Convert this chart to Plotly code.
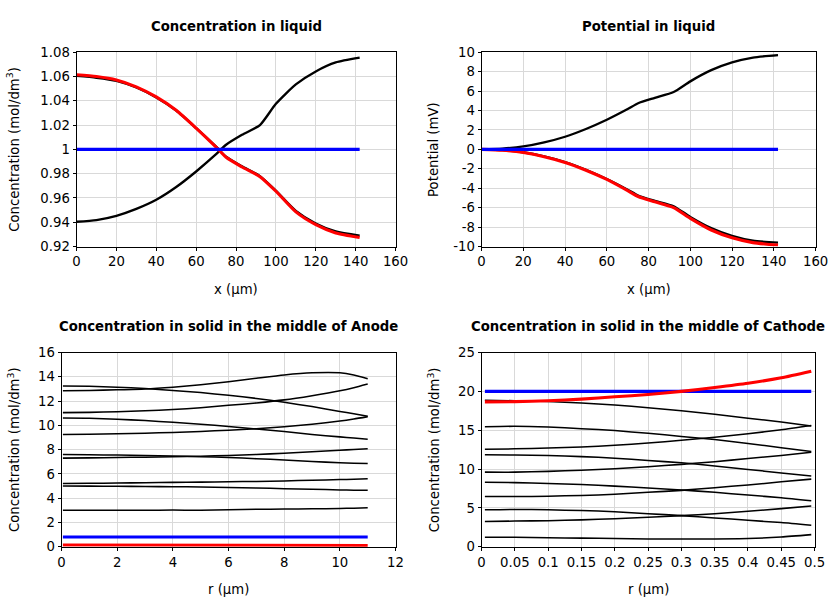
import plotly.graph_objects as go

# ---------------- data ----------------
# Concentration in liquid
x_liq = [0, 10, 20, 30, 40, 50, 60, 70, 75, 83, 92, 100, 110, 120, 130, 142]
c_liq_up = [0.9404, 0.9418, 0.9453, 0.951, 0.9585, 0.969, 0.9818, 0.996, 1.0038, 1.012, 1.020, 1.0375, 1.0535, 1.0642, 1.0716, 1.0755]
c_liq_down = [1.0605, 1.059, 1.0565, 1.051, 1.0428, 1.032, 1.0175, 1.0022, 0.994, 0.986, 0.978, 0.966, 0.9494, 0.939, 0.9324, 0.929]
c_liq_red = [1.0615, 1.060, 1.0572, 1.0515, 1.0432, 1.0322, 1.0175, 1.0018, 0.9935, 0.9855, 0.9775, 0.9655, 0.9485, 0.938, 0.9312, 0.9275]
c_liq_blue = [1.0] * len(x_liq)

# Potential in liquid
p_liq_up = [0, 0.08, 0.3, 0.72, 1.3, 2.1, 3.05, 4.15, 4.75, 5.3, 5.9, 7.0, 8.15, 8.95, 9.45, 9.7]
p_liq_down = [0, -0.08, -0.3, -0.72, -1.3, -2.1, -3.05, -4.15, -4.75, -5.3, -5.85, -6.95, -8.1, -8.9, -9.4, -9.6]
p_liq_red = [0, -0.1, -0.33, -0.75, -1.35, -2.15, -3.1, -4.25, -4.85, -5.4, -6.0, -7.1, -8.3, -9.1, -9.6, -9.85]
p_liq_blue = [0.0] * len(x_liq)
p_ticks = [-10, -8, -6, -4, -2, 0, 2, 4, 6, 8, 10]
p_ticktext = ["-10", "-8", "-6", "-4", "-2", "0", "2", "4", "6", "8", "10"]

# Concentration in solid, anode
r_an = [0.05, 1, 2, 3, 4, 5, 6, 7, 8, 9, 10, 10.5, 11]
an_black = [
    [13.25, 13.22, 13.15, 13.03, 12.88, 12.7, 12.48, 12.22, 11.9, 11.55, 11.15, 10.95, 10.75],
    [12.85, 12.88, 12.93, 13.0, 13.15, 13.35, 13.6, 13.88, 14.15, 14.33, 14.33, 14.15, 13.85],
    [11.05, 11.07, 11.12, 11.2, 11.3, 11.45, 11.65, 11.85, 12.1, 12.45, 12.85, 13.1, 13.4],
    [10.6, 10.58, 10.5, 10.4, 10.25, 10.1, 9.9, 9.7, 9.5, 9.25, 9.05, 8.95, 8.85],
    [9.25, 9.27, 9.3, 9.35, 9.42, 9.5, 9.6, 9.72, 9.88, 10.1, 10.35, 10.52, 10.72],
    [7.6, 7.58, 7.55, 7.52, 7.48, 7.42, 7.35, 7.25, 7.15, 7.02, 6.92, 6.88, 6.85],
    [7.3, 7.32, 7.35, 7.38, 7.42, 7.46, 7.52, 7.6, 7.7, 7.82, 7.95, 8.01, 8.08],
    [5.2, 5.22, 5.25, 5.27, 5.3, 5.32, 5.35, 5.38, 5.42, 5.48, 5.53, 5.56, 5.6],
    [5.0, 4.99, 4.98, 4.96, 4.94, 4.92, 4.88, 4.84, 4.78, 4.73, 4.68, 4.66, 4.65],
    [3.0, 3.0, 3.0, 3.0, 3.02, 3.0, 3.05, 3.08, 3.1, 3.12, 3.15, 3.17, 3.2],
]
an_red = [0.14, 0.14, 0.14, 0.14, 0.14, 0.14, 0.14, 0.14, 0.14, 0.1, 0.1, 0.1, 0.1]
an_blue = [0.8] * len(r_an)

# Concentration in solid, cathode
r_ca = [0.005, 0.05, 0.1, 0.15, 0.2, 0.25, 0.3, 0.35, 0.4, 0.45, 0.495]
ca_black = [
    [18.85, 18.8, 18.7, 18.5, 18.25, 17.9, 17.5, 17.05, 16.55, 16.05, 15.55],
    [15.45, 15.5, 15.4, 15.2, 14.95, 14.6, 14.2, 13.8, 13.3, 12.75, 12.25],
    [12.55, 12.6, 12.7, 12.85, 13.05, 13.35, 13.7, 14.1, 14.55, 15.05, 15.6],
    [11.85, 11.8, 11.75, 11.6, 11.4, 11.1, 10.8, 10.4, 9.95, 9.5, 9.1],
    [9.6, 9.6, 9.7, 9.85, 10.05, 10.3, 10.6, 10.95, 11.35, 11.75, 12.15],
    [8.3, 8.25, 8.15, 8.0, 7.8, 7.55, 7.3, 7.0, 6.65, 6.3, 5.9],
    [6.45, 6.45, 6.5, 6.6, 6.75, 7.0, 7.25, 7.6, 7.95, 8.35, 8.7],
    [4.75, 4.8, 4.75, 4.65, 4.5, 4.25, 4.0, 3.7, 3.4, 3.1, 2.75],
    [3.25, 3.3, 3.35, 3.45, 3.6, 3.8, 4.0, 4.25, 4.55, 4.9, 5.25],
    [1.2, 1.2, 1.15, 1.1, 1.05, 1.0, 1.0, 1.0, 1.05, 1.25, 1.55],
]
ca_red = [18.65, 18.68, 18.8, 19.0, 19.3, 19.6, 20.0, 20.5, 21.05, 21.75, 22.6]
ca_blue = [20.0] * len(r_ca)

titles = ["Concentration in liquid", "Potential in liquid",
          "Concentration in solid in the middle of Anode",
          "Concentration in solid in the middle of Cathode"]
conc_label = "Concentration (mol/dm<sup>3</sup>)"

# ---------------- figure ----------------
W, H = 855, 612
SX, OX = 0.98, 4.5     # observed mapping figure px -> picture px (x)
SY, OY = 0.975, 6.3    # observed mapping figure px -> picture px (y)
FONT = "DejaVu Sans"
FS = 13 / SX
fig = go.Figure()

def PX(v):
    return (v - OX) / SX

def PY(v):
    return (v - OY) / SY

def add(x, y, color, width, ax, shape="spline"):
    fig.add_trace(go.Scatter(x=x, y=y, mode="lines", xaxis="x" + ax, yaxis="y" + ax,
                             line=dict(color=color, width=width / SX, shape=shape, smoothing=0.6),
                             showlegend=False, hoverinfo="skip"))

# panel 1
add(x_liq, c_liq_up, "black", 2.3, "")
add(x_liq, c_liq_down, "black", 2.3, "")
add(x_liq, c_liq_red, "red", 3, "")
add(x_liq, c_liq_blue, "blue", 3, "")
# panel 2
add(x_liq, p_liq_up, "black", 2.3, "2")
add(x_liq, p_liq_down, "black", 2.3, "2")
add(x_liq, p_liq_red, "red", 3, "2")
add(x_liq, p_liq_blue, "blue", 3, "2")
# panel 3
for s in an_black:
    add(r_an, s, "black", 1.5, "3")
add(r_an, an_blue, "blue", 3, "3", "linear")
add(r_an, an_red, "red", 3, "3", "linear")
# panel 4
for s in ca_black:
    add(r_ca, s, "black", 1.5, "4")
add(r_ca, ca_blue, "blue", 3, "4", "linear")
add(r_ca, ca_red, "red", 3, "4")

def px_x(a, b):
    return [PX(a) / W, PX(b) / W]

def px_y(top, bot):
    return [1 - PY(bot) / H, 1 - PY(top) / H]

common = dict(showline=True, linecolor="black", linewidth=1, mirror=True,
              showgrid=True, gridcolor="#d9d9d9", gridwidth=1,
              ticks="outside", ticklen=3, tickcolor="black",
              tickfont=dict(family=FONT, size=FS, color="black"),
              zeroline=False, fixedrange=True)

fig.update_layout(
    width=W, height=H, margin=dict(l=0, r=0, t=0, b=0),
    paper_bgcolor="white", plot_bgcolor="white",
    font=dict(family=FONT, size=FS, color="black"),
    xaxis=dict(domain=px_x(77, 396), range=[0, 160], dtick=20, anchor="y", **common),
    yaxis=dict(domain=px_y(51.5, 245.7), range=[0.92, 1.08], dtick=0.02, anchor="x", **common),
    xaxis2=dict(domain=px_x(482, 816), range=[0, 160], dtick=20, anchor="y2", **common),
    yaxis2=dict(domain=px_y(51.5, 245.7), range=[-10, 10], tickvals=p_ticks, ticktext=p_ticktext, anchor="x2", **common),
    xaxis3=dict(domain=px_x(62, 396), range=[0, 12], dtick=2, anchor="y3", **common),
    yaxis3=dict(domain=px_y(351.7, 545.7), range=[0, 16], dtick=2, anchor="x3", **common),
    xaxis4=dict(domain=px_x(482, 815), range=[0, 0.5], dtick=0.05, anchor="y4", **common),
    yaxis4=dict(domain=px_y(351.7, 545.7), range=[0, 25], dtick=5, anchor="x4", **common),
)

def ann(text, x, y, bold=False, angle=0):
    fig.add_annotation(text=("<b>%s</b>" % text) if bold else text,
                       x=PX(x) / W, y=1 - PY(y) / H, xref="paper", yref="paper",
                       xanchor="center", yanchor="middle", showarrow=False,
                       textangle=angle, font=dict(family=FONT, size=FS, color="black"))

ann(titles[0], 236.5, 26, bold=True)
ann(titles[1], 649, 26, bold=True)
ann(titles[2], 229, 326, bold=True)
ann(titles[3], 648.5, 326, bold=True)

ann("x (µm)", 236.5, 289)
ann("x (µm)", 649, 289)
ann("r (µm)", 229, 589)
ann("r (µm)", 648.5, 589)

ann(conc_label, 14, 148.6, angle=-90)
ann("Potential (mV)", 434, 148.6, angle=-90)
ann(conc_label, 14, 448.7, angle=-90)
ann(conc_label, 434, 448.7, angle=-90)

fig.write_html("out.html")
